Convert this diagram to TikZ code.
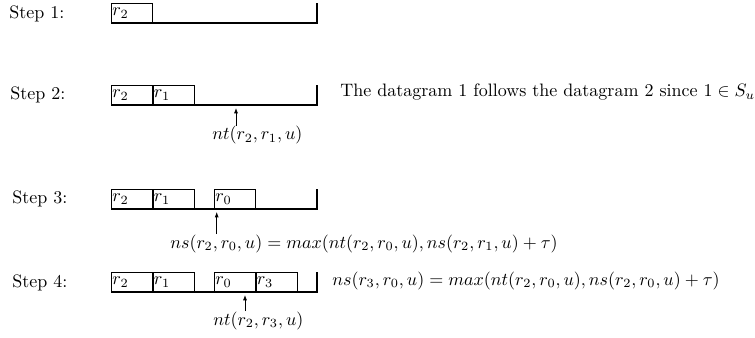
\documentclass[tikz,border=0pt]{standalone}
\usetikzlibrary{arrows.meta}
\begin{document}
\begin{tikzpicture}[x=0.5556pt,y=-0.5556pt,
  bar/.style={line width=1.1pt,line join=miter},
  slot/.style={draw,line width=0.45pt,anchor=north west,inner xsep=0.55pt,inner ysep=0pt,
    text width=21.95pt,minimum height=11.11pt,align=left},
  steplbl/.style={anchor=base west,inner sep=0pt},
  txt/.style={anchor=base west,inner sep=0pt},
  arr/.style={line width=0.45pt,-{Latex[length=3pt,width=2.2pt]},shorten >=1.6pt}]
\useasboundingbox (0,0) rectangle (755,338);
% Step 1
\node[steplbl] (s1) at (9,18.5) {Step 1:};
\node[slot] (a1) at (111,3) {$r_2$};
\coordinate (L1) at (111,23);
\coordinate (R1) at (317,23);
\coordinate (T1) at (317,3);
\draw[bar] (L1) -- (R1) -- (T1);
% Step 2
\node[steplbl] (s2) at (10,99.5) {Step 2:};
\node[slot] (a2) at (111,85) {$r_2$};
\node[slot] (b2) at (152.5,85) {$r_1$};
\coordinate (L2) at (111,105);
\coordinate (R2) at (317,105);
\coordinate (T2) at (317,85);
\draw[bar] (L2) -- (R2) -- (T2);
\coordinate (p2) at (236,105);
\node[txt] (n2) at (212,140) {$nt(r_2,r_1,u)$};
\draw[arr] (n2.north -| p2) -- (p2);
\node[txt] (d2) at (340,97) {The datagram 1 follows the datagram 2 since $1 \in S_u$};
% Step 3
\node[steplbl] (s3) at (12,203.5) {Step 3:};
\node[slot] (a3) at (111,189) {$r_2$};
\node[slot] (b3) at (152.5,189) {$r_1$};
\node[slot] (c3) at (214,189) {$r_0$};
\coordinate (L3) at (111,209);
\coordinate (R3) at (317,209);
\coordinate (T3) at (317,189);
\draw[bar] (L3) -- (R3) -- (T3);
\coordinate (p3) at (216.7,209);
\node[txt] (n3) at (170,248) {$ns(r_2,r_0,u) = max(nt(r_2,r_0,u),ns(r_2,r_1,u)+\tau)$};
\draw[arr] (n3.north -| p3) -- (p3);
% Step 4
\node[steplbl] (s4) at (12,287) {Step 4:};
\node[slot] (a4) at (111,272) {$r_2$};
\node[slot] (b4) at (152.5,272) {$r_1$};
\node[slot] (c4) at (214,272) {$r_0$};
\node[slot] (e4) at (255.5,272) {$r_3$};
\coordinate (L4) at (111,292);
\coordinate (R4) at (317,292);
\coordinate (T4) at (317,272);
\draw[bar] (L4) -- (R4) -- (T4);
\coordinate (p4) at (245,292);
\node[txt] (n4) at (213,325) {$nt(r_2,r_3,u)$};
\draw[arr] (n4.north -| p4) -- (p4);
\node[txt] (d4) at (332,285) {$ns(r_3,r_0,u) = max(nt(r_2,r_0,u),ns(r_2,r_0,u)+\tau)$};
\end{tikzpicture}
\end{document}
